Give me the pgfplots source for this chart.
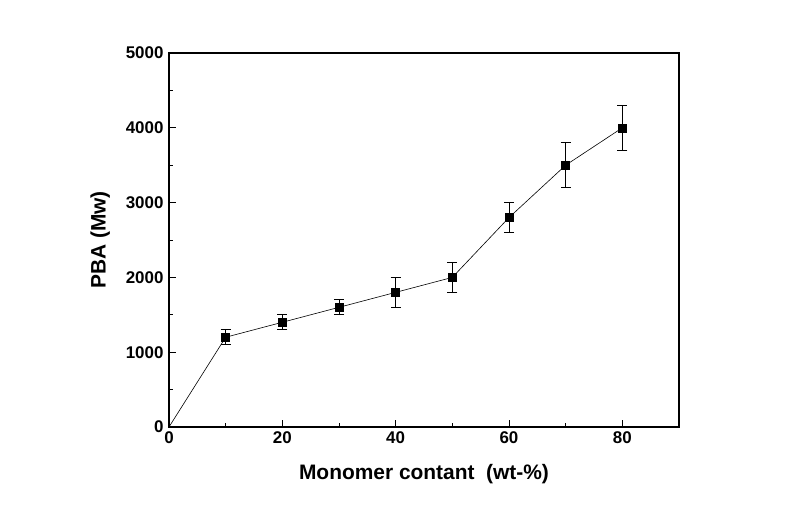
\documentclass[border=0pt]{standalone}
\usepackage{pgfplots}
\pgfplotsset{compat=1.18}
\usepackage{fontspec}
\setmainfont{Liberation Sans}
\begin{document}
\begin{tikzpicture}
\begin{axis}[
  at={(0,0)}, anchor=south west,
  scale only axis, width=510bp, height=374bp,
  xmin=0, xmax=90, ymin=0, ymax=5000,
  xtick={0,20,40,60,80}, minor xtick={10,30,50,70},
  ytick={0,1000,2000,3000,4000,5000}, minor ytick={500,1500,2500,3500,4500},
  tick align=inside, xtick pos=left, ytick pos=left,
  major tick length=7bp, minor tick length=4bp,
  every tick/.style={line width=1pt, black},
  axis line style={line width=1.6pt},
  /pgf/number format/assume math mode=true,
  scaled y ticks=false,
  yticklabel style={/pgf/number format/1000 sep={}, xshift=-2bp},
  xticklabel style={yshift=-1bp},
  ticklabel style={font=\bfseries\fontsize{17}{19}\selectfont},
  xlabel={Monomer contant\ \ (wt-\%)},
  ylabel={PBA (Mw)},
  label style={font=\bfseries\fontsize{21}{24}\selectfont},
  xlabel style={yshift=-14bp},
  ylabel style={yshift=9bp},
]
\addplot[black, line width=0.6pt] coordinates {
(0,0) (10,1200) (20,1400) (30,1600) (40,1800) (50,2000) (60,2800) (70,3500) (80,4000)};
\addplot[black, only marks, mark=square*, mark size=4bp,
  error bars/.cd, y dir=both, y explicit,
  error bar style={line width=0.8pt, black},
  error mark options={rotate=90, mark size=5bp, line width=0.8pt}]
  coordinates {
(10,1200) +- (0,100)
(20,1400) +- (0,100)
(30,1600) +- (0,100)
(40,1800) +- (0,200)
(50,2000) +- (0,200)
(60,2800) +- (0,200)
(70,3500) +- (0,300)
(80,4000) +- (0,300)};
\end{axis}
\useasboundingbox (-169bp,-85bp) rectangle (628bp,427bp);
\end{tikzpicture}
\end{document}
